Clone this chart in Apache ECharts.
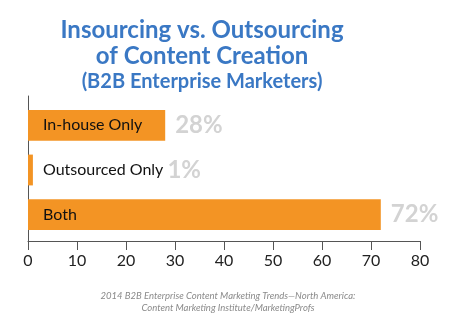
<!DOCTYPE html>
<html><head><meta charset="utf-8">
<script src="https://cdn.jsdelivr.net/npm/echarts@6/dist/echarts.min.js"></script>
<style>html,body{margin:0;padding:0;background:#fff}#c{width:460px;height:321px}</style>
</head><body><div id="c"></div>
<script>
const categories = ['In-house Only', 'Outsourced Only', 'Both'];
const values = [28, 1, 72];
const xTicks = [0, 10, 20, 30, 40, 50, 60, 70, 80];

const chart = echarts.init(document.getElementById('c'), null, {renderer: 'canvas'});
const orange = '#F39424';
const blue = '#3A78C4';
const grayVal = '#D3D3D3';

const data = values.map((v, i) => {
  const item = {value: v, name: categories[i]};
  if (i === 1) {
    item.label = {formatter: '{n|' + categories[i] + '} {v|' + v + '%}'};
  }
  return item;
});
const valData = values.map((v, i) => {
  const item = {value: v};
  if (i === 1) item.label = {show: false};
  return item;
});

chart.setOption({
  animation: false,
  title: [
    {text: 'Insourcing vs. Outsourcing\nof Content Creation', left: 197, top: 12, textAlign: 'center',
     textStyle: {fontFamily: 'Lato', fontWeight: 'bold', fontSize: 24, color: blue, lineHeight: 26}},
    {text: '(B2B Enterprise Marketers)', left: 197, top: 67, textAlign: 'center',
     textStyle: {fontFamily: 'Lato', fontWeight: 'bold', fontSize: 20, color: blue}},
    {text: '2014 B2B Enterprise Content Marketing Trends\u2014North America:\nContent Marketing Institute/MarketingProfs',
     left: 223, top: 285, textAlign: 'center',
     textStyle: {fontFamily: 'Lato', fontStyle: 'italic', fontWeight: 'normal', fontSize: 9.5, color: '#8a8a8a', lineHeight: 12}}
  ],
  grid: [
    {left: 28, right: 40, top: 96, bottom: 80},
    {left: 28, right: 40, top: 103, bottom: 84}
  ],
  xAxis: [
    {
      type: 'value', gridIndex: 0, min: 0, max: 80, interval: 10,
      axisLine: {show: true, lineStyle: {color: '#555', width: 1}},
      axisTick: {show: true, length: 9, lineStyle: {color: '#555'}},
      splitLine: {show: false},
      axisLabel: {fontFamily: 'Lato', fontSize: 16, color: '#222', margin: 12,
        formatter: v => xTicks.includes(v) ? String(v) : ''}
    },
    {
      type: 'value', gridIndex: 1, min: 0, max: 80, interval: 10,
      axisLine: {show: false}, axisTick: {show: false}, axisLabel: {show: false}, splitLine: {show: false}
    }
  ],
  yAxis: [
    {
      type: 'value', gridIndex: 0, min: 0, max: 1,
      axisLine: {show: true, lineStyle: {color: '#555', width: 1}},
      axisTick: {show: false}, axisLabel: {show: false}, splitLine: {show: false}
    },
    {
      type: 'category', gridIndex: 1, data: categories, inverse: true,
      axisLine: {show: false}, axisTick: {show: false}, axisLabel: {show: false}
    }
  ],
  series: [
    {
      type: 'bar', xAxisIndex: 1, yAxisIndex: 1, data: data, barCategoryGap: '31%', barGap: '-100%',
      itemStyle: {color: orange},
      label: {show: true, position: 'insideLeft', distance: 15,
        formatter: p => p.name,
        fontFamily: 'Lato', fontSize: 16, color: '#111',
        rich: {n: {fontFamily: 'Lato', fontSize: 16, color: '#111'},
               v: {fontFamily: 'Lato', fontSize: 24, fontWeight: 'bold', color: grayVal}}}
    },
    {
      type: 'bar', xAxisIndex: 1, yAxisIndex: 1, data: valData, barCategoryGap: '31%', barGap: '-100%',
      itemStyle: {color: 'rgba(0,0,0,0)'}, silent: true,
      label: {show: true, position: 'right', distance: 10,
        formatter: p => p.value + '%',
        fontFamily: 'Lato', fontSize: 24, fontWeight: 'bold', color: grayVal}
    }
  ]
});
</script></body></html>
